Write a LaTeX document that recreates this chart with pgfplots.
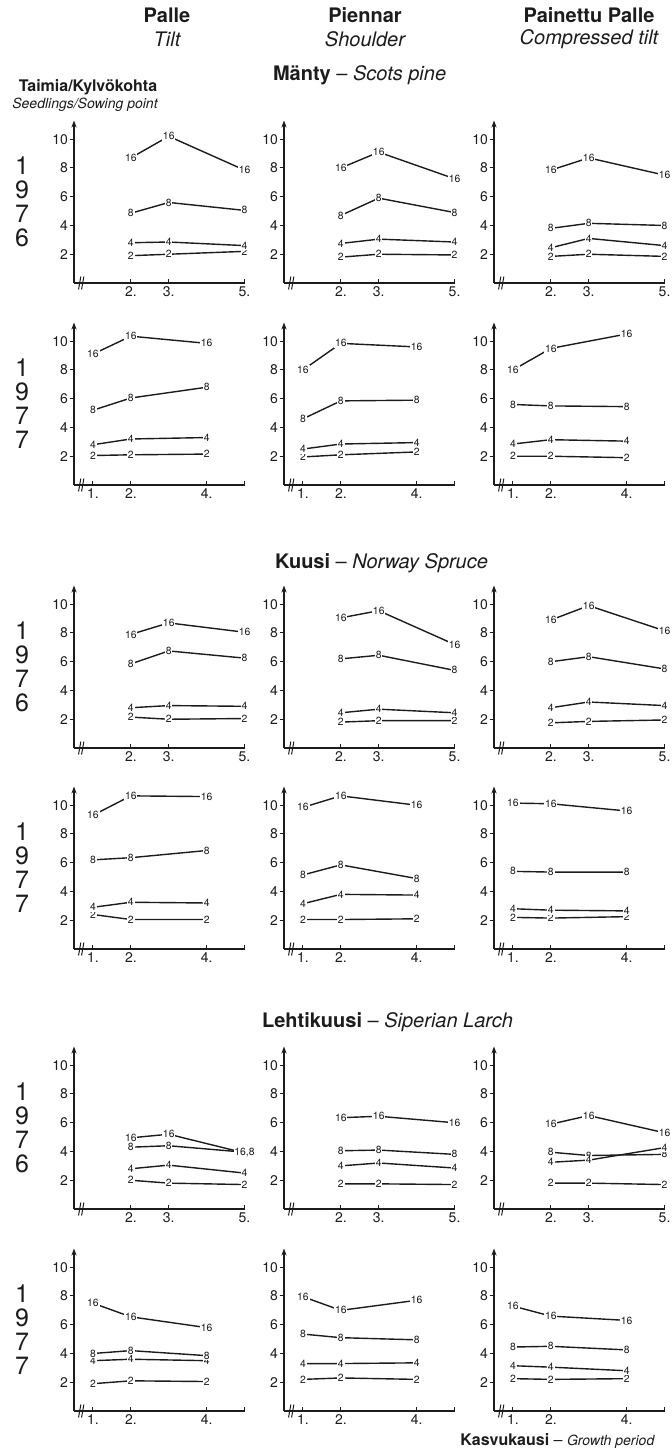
\documentclass[border=0pt]{standalone}
\usepackage{fontspec}
\setmainfont{TeX Gyre Heros}
\usepackage{pgfplots}
\pgfplotsset{compat=1.18}
\usetikzlibrary{arrows.meta}
\definecolor{ink}{HTML}{1C1C1C}

\pgfplotsset{
  panel/.style={
    x=18.95pt, y=7.19pt,
    xmin=0.5, xmax=5, ymin=0, ymax=11.3,
    axis lines=left,
    axis line style={line width=0.6pt, ink},
    x axis line style={-},
    y axis line style={-{Stealth[length=3.5pt,width=2.6pt]}},
    ytick={2,4,6,8,10},
    xtick align=inside,
    ytick align=outside,
    major tick length=2.2pt,
    tick style={line width=0.5pt, ink},
    /pgf/number format/assume math mode=true,
    yticklabel style={font=\fontsize{7}{7}\selectfont, text=ink, inner sep=0.6pt},
    xticklabel style={font=\fontsize{7}{7}\selectfont, text=ink, inner sep=1.5pt},
    clip=false,
    anchor=south west,
  },
  ln/.style={ink, line width=0.7pt, mark=none,
      point meta=explicit symbolic, nodes near coords,
      every node near coord/.style={anchor=center, fill=white, inner sep=0.4pt,
        font=\fontsize{5.2}{5.2}\selectfont, text=ink}},
  pA/.style={panel, xtick={2,3,5}, xticklabels={2.,3.,5.}},
  pB/.style={panel, xtick={1,2,4,5}, xticklabels={1.,2.,4.,{}}},
}
% series helpers: #1 label, #2-#4 values
\newcommand\sA[4]{\addplot[ln] coordinates {(2,#2)[#1] (3,#3)[#1] (5,#4)[#1]};}
\newcommand\sB[4]{\addplot[ln] coordinates {(1,#2)[#1] (2,#3)[#1] (4,#4)[#1]};}
\newcommand\brk{\draw[ink, line width=0.5pt] (axis cs:0.62,-0.45) -- (axis cs:0.68,0.45) (axis cs:0.70,-0.45) -- (axis cs:0.76,0.45);}
\newcommand\yr[2]{\begin{scope}[yshift=#1pt, every node/.style={font=\fontsize{12.5}{12.5}\selectfont, text=ink}]
  \node at (11pt,58.5pt) {1}; \node at (11pt,46.5pt) {9}; \node at (11pt,34.5pt) {7}; \node at (11pt,22.5pt) {#2};
\end{scope}}

\begin{document}
\begin{tikzpicture}
\useasboundingbox (0,0) rectangle (336pt,-724.5pt);
% headers
\node[font=\bfseries\fontsize{10}{10}\selectfont, text=ink] at (83.5pt,-7.5pt) {Palle};
\node[font=\itshape\fontsize{10}{10}\selectfont, text=ink] at (83.5pt,-19.5pt) {Tilt};
\node[font=\bfseries\fontsize{10}{10}\selectfont, text=ink] at (182.5pt,-7.5pt) {Piennar};
\node[font=\itshape\fontsize{10}{10}\selectfont, text=ink] at (182.5pt,-19.5pt) {Shoulder};
\node[font=\bfseries\fontsize{10}{10}\selectfont, text=ink] at (294.5pt,-7.5pt) {Painettu Palle};
\node[font=\itshape\fontsize{10}{10}\selectfont, text=ink] at (294.5pt,-19.5pt) {Compressed tilt};
\node[font=\fontsize{8}{8}\selectfont, text=ink] at (44pt,-43.5pt) {\textbf{Taimia/Kylvökohta}};
\node[font=\itshape\fontsize{7}{7}\selectfont, text=ink] at (42.5pt,-52.5pt) {Seedlings/Sowing point};
\node[anchor=west, font=\fontsize{10}{10}\selectfont, text=ink] at (133pt,-37.5pt) {\textbf{Mänty} – \textit{Scots pine}};
\node[anchor=west, font=\fontsize{10}{10}\selectfont, text=ink] at (134pt,-281.5pt) {\textbf{Kuusi} – \textit{Norway Spruce}};
\node[anchor=west, font=\fontsize{10}{10}\selectfont, text=ink] at (127.5pt,-511pt) {\textbf{Lehtikuusi} – \textit{Siperian Larch}};
\node[anchor=east, text=ink] at (331pt,-720.5pt) {\fontsize{8}{8}\selectfont\textbf{Kasvukausi} – \fontsize{7}{7}\selectfont\textit{Growth period}};

\yr{-141.5}{6} \yr{-242.5}{7} \yr{-374}{6} \yr{-474.5}{7} \yr{-604.5}{6} \yr{-705.5}{7}

% ===== Row 1: Manty 1976 =====
\begin{axis}[pA, at={(37pt,-141.5pt)}]
\sA{2}{1.9}{2.0}{2.2} \sA{4}{2.8}{2.85}{2.6} \sA{8}{4.85}{5.6}{5.05} \sA{16}{8.7}{10.2}{7.85} \brk
\end{axis}
\begin{axis}[pA, at={(142pt,-141.5pt)}]
\sA{2}{1.8}{2.0}{1.95} \sA{4}{2.75}{3.05}{2.85} \sA{8}{4.7}{5.9}{4.9} \sA{16}{8.0}{9.1}{7.25} \brk
\end{axis}
\begin{axis}[pA, at={(247pt,-141.5pt)}]
\sA{2}{1.85}{2.0}{1.85} \sA{4}{2.45}{3.1}{2.6} \sA{8}{3.8}{4.15}{4.0} \sA{16}{7.85}{8.7}{7.5} \brk
\end{axis}
% ===== Row 2: Manty 1977 =====
\begin{axis}[pB, at={(37pt,-242.5pt)}]
\sB{2}{2.05}{2.1}{2.15} \sB{4}{2.8}{3.2}{3.3} \sB{8}{5.2}{6.05}{6.8} \sB{16}{9.1}{10.35}{9.85} \brk
\end{axis}
\begin{axis}[pB, at={(142pt,-242.5pt)}]
\sB{2}{1.95}{2.1}{2.3} \sB{4}{2.5}{2.85}{2.95} \sB{8}{4.6}{5.85}{5.9} \sB{16}{8.0}{9.85}{9.6} \brk
\end{axis}
\begin{axis}[pB, at={(247pt,-242.5pt)}]
\sB{2}{2.0}{2.0}{1.9} \sB{4}{2.85}{3.15}{3.05} \sB{8}{5.6}{5.5}{5.45} \sB{16}{8.0}{9.5}{10.5} \brk
\end{axis}
% ===== Row 3: Kuusi 1976 =====
\begin{axis}[pA, at={(37pt,-374pt)}]
\sA{2}{2.15}{2.0}{2.05} \sA{4}{2.8}{2.95}{2.9} \sA{8}{5.85}{6.75}{6.25} \sA{16}{7.9}{8.7}{8.05} \brk
\end{axis}
\begin{axis}[pA, at={(142pt,-374pt)}]
\sA{2}{1.8}{1.9}{1.9} \sA{4}{2.45}{2.7}{2.45} \sA{8}{6.2}{6.45}{5.4} \sA{16}{9.05}{9.55}{7.2} \brk
\end{axis}
\begin{axis}[pA, at={(247pt,-374pt)}]
\sA{2}{1.75}{1.85}{1.95} \sA{4}{2.8}{3.2}{2.95} \sA{8}{6.0}{6.35}{5.5} \sA{16}{8.9}{9.9}{8.15} \brk
\end{axis}
% ===== Row 4: Kuusi 1977 =====
\begin{axis}[pB, at={(37pt,-474.5pt)}]
\sB{2}{2.4}{2.05}{2.05} \sB{4}{2.9}{3.25}{3.2} \sB{8}{6.2}{6.35}{6.85} \sB{16}{9.3}{10.65}{10.6} \brk
\end{axis}
\begin{axis}[pB, at={(142pt,-474.5pt)}]
\sB{2}{2.05}{2.05}{2.1} \sB{4}{3.15}{3.8}{3.75} \sB{8}{5.15}{5.85}{4.9} \sB{16}{9.85}{10.65}{10.0} \brk
\end{axis}
\begin{axis}[pB, at={(247pt,-474.5pt)}]
\sB{2}{2.2}{2.15}{2.25} \sB{4}{2.8}{2.7}{2.65} \sB{8}{5.4}{5.35}{5.35} \sB{16}{10.15}{10.1}{9.6} \brk
\end{axis}
% ===== Row 5: Lehtikuusi 1976 =====
\begin{axis}[pA, at={(37pt,-604.5pt)}]
\sA{2}{2.0}{1.8}{1.7} \sA{4}{2.8}{3.05}{2.5}
\addplot[ln] coordinates {(2,4.3)[8] (3,4.4)[8] (5,3.95)[]};
\addplot[ln] coordinates {(2,4.95)[16] (3,5.2)[16] (5,3.9)[{16,8}]};
\brk
\end{axis}
\begin{axis}[pA, at={(142pt,-604.5pt)}]
\sA{2}{1.75}{1.75}{1.7} \sA{4}{3.0}{3.2}{2.85} \sA{8}{4.05}{4.1}{3.8} \sA{16}{6.35}{6.45}{6.0} \brk
\end{axis}
\begin{axis}[pA, at={(247pt,-604.5pt)}]
\sA{2}{1.8}{1.8}{1.7} \sA{8}{3.95}{3.72}{3.8} \sA{4}{3.25}{3.4}{4.27} \sA{16}{5.9}{6.5}{5.3} \brk
\end{axis}
% ===== Row 6: Lehtikuusi 1977 =====
\begin{axis}[pB, at={(37pt,-705.5pt)}]
\sB{2}{1.9}{2.1}{2.05} \sB{4}{3.5}{3.6}{3.5} \sB{8}{4.0}{4.2}{3.85} \sB{16}{7.5}{6.55}{5.8} \brk
\end{axis}
\begin{axis}[pB, at={(142pt,-705.5pt)}]
\sB{2}{2.2}{2.3}{2.2} \sB{4}{3.3}{3.3}{3.35} \sB{8}{5.35}{5.1}{4.95} \sB{16}{7.95}{7.0}{7.7} \brk
\end{axis}
\begin{axis}[pB, at={(247pt,-705.5pt)}]
\sB{2}{2.25}{2.2}{2.25} \sB{4}{3.15}{3.05}{2.8} \sB{8}{4.45}{4.5}{4.25} \sB{16}{7.3}{6.6}{6.3} \brk
\end{axis}
\end{tikzpicture}
\end{document}
